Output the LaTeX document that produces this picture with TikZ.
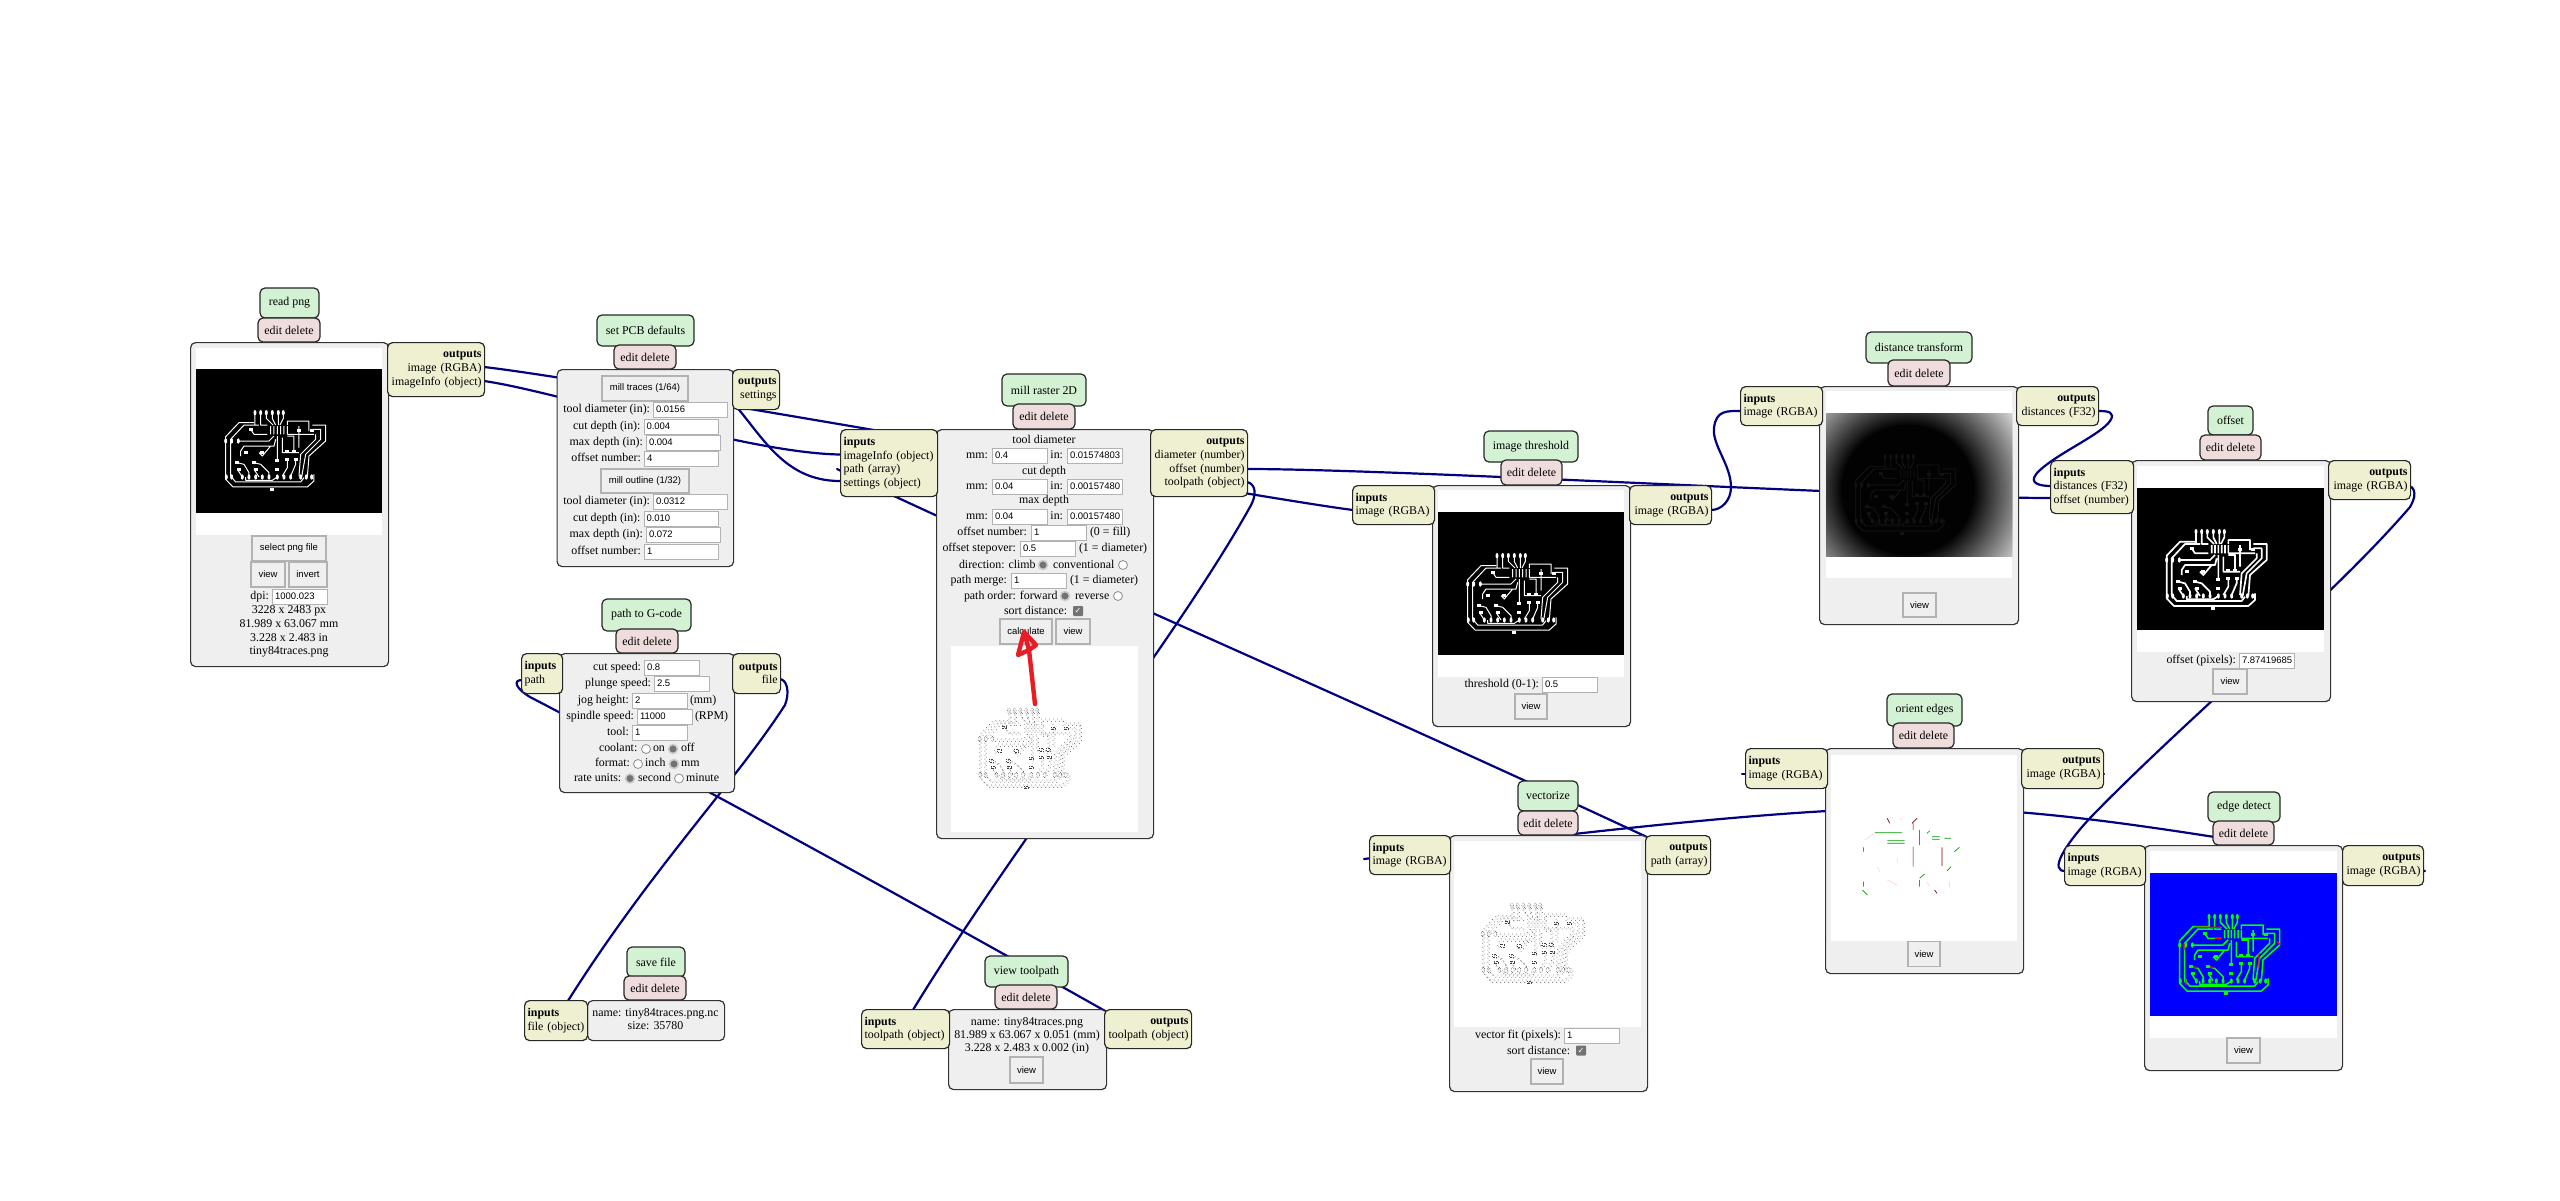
\documentclass[tikz,border=0pt]{standalone}
\usepackage{fontspec}
\setmainfont{Liberation Serif}
\newfontfamily\uifont{Liberation Sans}
\newfontfamily\symfont{DejaVu Sans}
\usetikzlibrary{positioning,backgrounds}

\definecolor{linkblue}{HTML}{000080}
\definecolor{titlegreen}{HTML}{D3F1D3}
\definecolor{editpink}{HTML}{EFDCDC}
\definecolor{modgray}{HTML}{EFEFEF}
\definecolor{portcream}{HTML}{EFEFD1}
\definecolor{arrowred}{HTML}{E81C24}

\tikzset{
  txt/.style={inner sep=0pt,outer sep=0pt,font=\fontsize{11.9}{13.7}\selectfont,text height=8pt,text depth=2.5pt},
  titlebox/.style={draw=black!85,line width=1.2pt,rounded corners=5pt,fill=titlegreen,inner sep=0pt,font=\fontsize{11.9}{13.7}\selectfont},
  editbox/.style={titlebox,fill=editpink},
  mainbox/.style={draw=black!80,line width=1.2pt,rounded corners=5pt,fill=modgray,inner sep=0pt,anchor=north west},
  portbox/.style={draw=black!85,line width=1.2pt,rounded corners=5pt,fill=portcream,inner xsep=3pt,inner ysep=0pt,anchor=north west,font=\fontsize{11.9}{13.7}\selectfont},
  inport/.style={portbox,align=left},
  outport/.style={portbox,align=right},
  field/.style={draw=black!30,line width=1pt,fill=white,text width=#1,align=left,inner xsep=2.5pt,inner ysep=0pt,minimum height=15pt,anchor=west,font=\uifont\fontsize{9.5}{11}\selectfont,text height=7pt,text depth=1.5pt},
  btn/.style={draw=black!30,line width=1.2pt,fill=modgray,inner sep=0pt,font=\uifont\fontsize{9.5}{11}\selectfont},
  radio/.style={circle,draw=black!45,line width=.8pt,fill=white,inner sep=0pt,minimum size=9pt},
  radioon/.style={circle,draw=black!20,line width=1.6pt,fill=black!55,inner sep=0pt,minimum size=9pt},
  checkon/.style={rounded corners=1pt,fill=black!55,text=white,inner sep=0pt,minimum size=10pt,font=\symfont\fontsize{8}{8}\selectfont},
  link/.style={draw=linkblue,line width=2.2pt,line cap=round}
}

% one circuit board, drawn in its own small grid
\newcommand{\pcbart}[3]{
  \begin{scope}[shift={(#3)},scale=0.3333,line join=round]
    \path[#1] (105,65) -- (60,65) -- (20,107) -- (20,235) -- (42,258) -- (265,258) -- (285,240) -- (285,220)
      (120,72) -- (75,72) -- (35,115) -- (35,225) -- (50,243) -- (245,243) -- (255,230)
      (108,35) -- (108,72) (125,35) -- (125,72) -- (145,72) (142,35) -- (142,52) -- (162,72) (160,35) -- (160,52) -- (170,72)
      (178,35) -- (178,72) (193,35) -- (193,52) -- (183,72)
      (95,85) -- (105,100) -- (145,100) (60,120) -- (150,120) -- (165,105)
      (205,72) -- (205,60) -- (270,60) -- (270,90) (205,100) -- (285,100)
      (280,72) -- (320,72) -- (320,120) -- (270,165) -- (265,228) (280,85) -- (305,85) -- (305,115) -- (260,160) -- (248,228)
      (290,100) -- (290,115) -- (245,160) -- (240,225) (240,75) -- (240,140)
      (205,105) -- (225,105) -- (225,155) (190,110) -- (190,155) -- (240,155)
      (170,115) -- (165,135) -- (75,135) -- (65,150) -- (65,165) (120,155) -- (130,165) -- (155,135)
      (175,105) -- (175,180) (205,175) -- (205,200) -- (190,225) (230,175) -- (230,190) -- (215,225)
      (55,185) -- (75,190) -- (90,215) -- (90,228) (105,185) -- (125,190) -- (150,215) -- (150,228)
      (55,205) -- (70,228) (105,205) -- (120,228) (80,228) -- (80,238) -- (160,238) -- (175,228)
      (155,75) -- (155,100) (165,75) -- (165,100) (175,75) -- (175,100) (185,75) -- (185,100) (195,75) -- (195,100) (205,75) -- (205,100);
    \foreach \px/\py in {108/35,125/35,142/35,160/35,178/35,193/35,20/120,38/120,58/120,22/228,38/228,70/228,90/228,110/228,130/228,150/228,175/228,195/228,215/228,245/228,262/228,278/228}
      \path[#2] (\px,\py) ellipse (4.5 and 8);
    \foreach \px/\py in {95/85,240/88,280/88,205/152,225/152,80/155,130/155,175/178,205/175,230/175,55/185,105/185,60/205,110/205,175/205,160/265}
      \path[#2] (\px-6,\py-4) rectangle (\px+6,\py+4);
  \end{scope}
}

% the milled toolpath look: faint tracks, then rows of small dots
\newcommand{\toolart}[2]{
  \pcbart{draw=black!10,line width=.5pt}{draw=none}{#1,#2}
  \pcbart{draw=black!70,line width=.6pt,dash pattern=on .6pt off 3.4pt}{draw=black!75,line width=.5pt,dash pattern=on .6pt off 1pt}{#1-1,#2-1}
  \pcbart{draw=black!70,line width=.6pt,dash pattern=on .6pt off 3.4pt}{draw=none}{#1+1,#2+1.5}
}

\begin{document}
\begin{tikzpicture}[x=1pt,y=-1pt]
  \useasboundingbox (0,0) rectangle (2560,1200);

  % module heads
  \foreach \name/\cx/\cy/\bw/\bh/\lab in {read/289.5/303/59/30/read png,pcb/645.5/330.5/97/31/set PCB defaults,gcode/646.5/615/89/32/path to G-code,raster/1044/390/84/32/mill raster 2D,save/656/962/58/30/save file,view/1026.5/971.5/83/31/view toolpath,thresh/1531/446.5/94/31/image threshold,dist/1919/347.5/106/31/distance transform,offset/2230.5/420.5/45/29/offset,orient/1924.5/710/75/32/orient edges,vec/1548/796/60/30/vectorize,edge/2244/807/72/30/edge detect}
    \node[titlebox,minimum width=\bw pt,minimum height=\bh pt] (\name title) at (\cx,\cy) {\lab};
  \foreach \name/\cx/\cy/\bw/\bh in {read/289/330/62/24,pcb/645/357/62/24,gcode/647/641/62/24,raster/1044/416.5/62/25,save/655/988/62/24,view/1026/997/62/24,thresh/1531.5/472.5/61/25,dist/1919/373/62/26,offset/2230.5/447.5/61/25,orient/1923.5/735.5/61/25,vec/1548/823/60/24,edge/2243.5/833/61/24}
    \node[editbox,minimum width=\bw pt,minimum height=\bh pt] (\name edit) at (\cx,\cy) {edit delete};
  \foreach \name/\mx/\my/\bw/\bh in {read/190/342/198/324,pcb/556.5/369/176.5/197,gcode/559/653/175/139,raster/936/429/217/409,save/587/1000/137/40,view/948/1009/158/80,thresh/1432/485/198/241,dist/1819/386/199/238,offset/2131/460/199/241,orient/1825/748/198/225,vec/1449/835/198/256,edge/2144/845/198/225}
    \node[mainbox,minimum width=\bw pt,minimum height=\bh pt] (\name main) at (\mx,\my) {};

  % ports
  \node[outport,text width=91pt,minimum height=54pt] (readout) at (387,342) {\textbf{outputs}\\image (RGBA)\\imageInfo (object)};
  \node[outport,text width=41pt,minimum height=40pt] (pcbout) at (732,369) {\textbf{outputs}\\settings};
  \node[inport,text width=35pt,minimum height=40pt] (gcodein) at (521,653) {\textbf{inputs}\\path};
  \node[outport,text width=42pt,minimum height=40pt] (gcodeout) at (732,653) {\textbf{outputs}\\file};
  \node[inport,text width=91pt,minimum height=67pt] (rasterin) at (840,429) {\textbf{inputs}\\imageInfo (object)\\path (array)\\settings (object)};
  \node[outport,text width=91pt,minimum height=67pt] (rasterout) at (1150,429) {\textbf{outputs}\\diameter (number)\\offset (number)\\toolpath (object)};
  \node[inport,text width=57pt,minimum height=40pt] (savein) at (524,1000) {\textbf{inputs}\\file (object)};
  \node[inport,text width=82pt,minimum height=39pt] (viewin) at (861,1009) {\textbf{inputs}\\toolpath (object)};
  \node[outport,text width=81pt,minimum height=39pt] (viewout) at (1104,1009) {\textbf{outputs}\\toolpath (object)};
  \node[inport,text width=76pt,minimum height=39pt] (threshin) at (1352,485) {\textbf{inputs}\\image (RGBA)};
  \node[outport,text width=76pt,minimum height=39pt] (threshout) at (1629,485) {\textbf{outputs}\\image (RGBA)};
  \node[inport,text width=76pt,minimum height=39pt] (distin) at (1740,386) {\textbf{inputs}\\image (RGBA)};
  \node[outport,text width=76pt,minimum height=39pt] (distout) at (2016,386) {\textbf{outputs}\\distances (F32)};
  \node[inport,text width=77pt,minimum height=53pt] (offsetin) at (2050,460) {\textbf{inputs}\\distances (F32)\\offset (number)};
  \node[outport,text width=76pt,minimum height=39pt] (offsetout) at (2328,460) {\textbf{outputs}\\image (RGBA)};
  \node[inport,text width=76pt,minimum height=40pt] (orientin) at (1745,748) {\textbf{inputs}\\image (RGBA)};
  \node[outport,text width=76pt,minimum height=40pt] (orientout) at (2021,748) {\textbf{outputs}\\image (RGBA)};
  \node[inport,text width=75pt,minimum height=39pt] (vecin) at (1369,835) {\textbf{inputs}\\image (RGBA)};
  \node[outport,text width=59pt,minimum height=39pt] (vecout) at (1645,835) {\textbf{outputs}\\path (array)};
  \node[inport,text width=75pt,minimum height=40pt] (edgein) at (2064,845) {\textbf{inputs}\\image (RGBA)};
  \node[outport,text width=75pt,minimum height=40pt] (edgeout) at (2342,845) {\textbf{outputs}\\image (RGBA)};

  % read png
  \fill[white] (196,348) rectangle (382,535);
  \fill[black] (196,369) rectangle (382,513);
  \pcbart{draw=white,line width=1pt}{fill=white}{219,401}
  \node[btn,minimum width=74pt,minimum height=25pt] (selectbtn) at (289,548.5) {select png file};
  \node[btn,minimum width=34pt,minimum height=25pt] (readview) at (268,574.5) {view};
  \node[btn,minimum width=38pt,minimum height=25pt] (invertbtn) at (308,574.5) {invert};
  \node[field=50pt] (dpifield) at (272,596.5) {1000.023};
  \node[txt,left=3pt of dpifield] (dpilab) {dpi:};
  \node[txt] (readpx) at (289,611) {3228 x 2483 px};
  \node[txt] (readmm) at (289,625) {81.989 x 63.067 mm};
  \node[txt] (readin) at (289,639) {3.228 x 2.483 in};
  \node[txt] (readfile) at (289,652) {tiny84traces.png};

  % set PCB defaults
  \node[btn,minimum width=86pt,minimum height=25pt] (tracesbtn) at (645,388.5) {mill traces (1/64)};
  \node[btn,minimum width=88pt,minimum height=24pt] (outlinebtn) at (645,481) {mill outline (1/32)};
  \foreach \name/\lab/\fx/\fy/\val in {pdia/tool diameter (in):/653/410/0.0156,pcut/cut depth (in):/643.5/426.5/0.004,pmax/max depth (in):/646/442.5/0.004,pnum/offset number:/644/459/4,qdia/tool diameter (in):/653/502/0.0312,qcut/cut depth (in):/643.5/518.5/0.010,qmax/max depth (in):/646/535/0.072,qnum/offset number:/644/551.5/1}{
    \node[field=69pt] (\name) at (\fx,\fy) {\val};
    \node[txt,left=3pt of \name] (\name lab) {\lab};
  }

  % path to G-code
  \foreach \name/\lab/\fx/\fy/\val in {gcut/cut speed:/644/667.5/0.8,gplunge/plunge speed:/654/684/2.5,gjog/jog height:/632/700.5/2,gspin/spindle speed:/637/717/11000,gtool/tool:/632/733/1}{
    \node[field=50pt] (\name) at (\fx,\fy) {\val};
    \node[txt,left=3pt of \name] (\name lab) {\lab};
  }
  \node[txt,anchor=west] (gjogunit) at (690,700.5) {(mm)};
  \node[txt,anchor=west] (gspinunit) at (695,717) {(RPM)};
  \node[txt,anchor=west] (coollab) at (599,749) {coolant:};
  \node[radio] (coolon) at (646,749) {};
  \node[txt,anchor=west] (coolontxt) at (653,749) {on};
  \node[radioon] (cooloff) at (673,749) {};
  \node[txt,anchor=west] (coolofftxt) at (681,749) {off};
  \node[txt,anchor=west] (formatlab) at (595,764) {format:};
  \node[radio] (forminch) at (638,764) {};
  \node[txt,anchor=west] (forminchtxt) at (645,764) {inch};
  \node[radioon] (formmm) at (674,764) {};
  \node[txt,anchor=west] (formmmtxt) at (681,764) {mm};
  \node[txt,anchor=west] (ratelab) at (574,779) {rate units:};
  \node[radioon] (ratesec) at (630,778.5) {};
  \node[txt,anchor=west] (ratesectxt) at (638,779) {second};
  \node[radio] (ratemin) at (679,778.5) {};
  \node[txt,anchor=west] (ratemintxt) at (686,779) {minute};

  % mill raster 2D
  \node[txt] (rdialab) at (1044,441) {tool diameter};
  \node[txt] (rcutlab) at (1044,472) {cut depth};
  \node[txt] (rmaxlab) at (1044,501) {max depth};
  \foreach \name/\fy/\mmval/\inval in {rdia/456/0.4/0.01574803,rcut/487/0.04/0.00157480,rmax/517/0.04/0.00157480}{
    \node[field=50pt] (\name mm) at (992,\fy) {\mmval};
    \node[txt,left=4pt of \name mm] (\name mmlab) {mm:};
    \node[field=50pt] (\name in) at (1067,\fy) {\inval};
    \node[txt,left=4pt of \name in] (\name inlab) {in:};
  }
  \node[field=50pt] (rnum) at (1031,532.5) {1};
  \node[txt,left=4pt of rnum] (rnumlab) {offset number:};
  \node[txt,right=3pt of rnum] (rnumnote) {(0 = fill)};
  \node[field=50pt] (rstep) at (1020,549) {0.5};
  \node[txt,left=4pt of rstep] (rsteplab) {offset stepover:};
  \node[txt,right=3pt of rstep] (rstepnote) {(1 = diameter)};
  \node[txt,anchor=west] (rdirlab) at (959,566) {direction: climb};
  \node[radioon] (rclimb) at (1043,565) {};
  \node[txt,anchor=west] (rconvlab) at (1053,566) {conventional};
  \node[radio] (rconv) at (1123,565) {};
  \node[field=50pt] (rmerge) at (1011,581) {1};
  \node[txt,left=4pt of rmerge] (rmergelab) {path merge:};
  \node[txt,right=3pt of rmerge] (rmergenote) {(1 = diameter)};
  \node[txt,anchor=west] (rorderlab) at (964,597) {path order: forward};
  \node[radioon] (rforward) at (1065,596) {};
  \node[txt,anchor=west] (rrevlab) at (1075,597) {reverse};
  \node[radio] (rreverse) at (1118,596) {};
  \node[txt,anchor=west] (rsortlab) at (1004,612) {sort distance:};
  \node[checkon] (rsort) at (1078,611) {✓};
  \node[btn,minimum width=52pt,minimum height=25pt] (calcbtn) at (1026,631.5) {calculate};
  \node[btn,minimum width=34pt,minimum height=25pt] (rasterview) at (1073,631.5) {view};
  \fill[white] (951,646) rectangle (1138,832);
  \toolart{974}{700}

  % save file
  \node[txt] (savename) at (655.5,1014) {name: tiny84traces.png.nc};
  \node[txt] (savesize) at (655.5,1027) {size: 35780};

  % view toolpath
  \node[txt] (viewname) at (1027,1023) {name: tiny84traces.png};
  \node[txt] (viewmm) at (1027,1036) {81.989 x 63.067 x 0.051 (mm)};
  \node[txt] (viewinch) at (1027,1049) {3.228 x 2.483 x 0.002 (in)};
  \node[btn,minimum width=33pt,minimum height=26pt] (viewview) at (1026.5,1070) {view};

  % image threshold
  \fill[white] (1438,490) rectangle (1624,677);
  \fill[black] (1438,512) rectangle (1624,655);
  \pcbart{draw=white,line width=1pt}{fill=white}{1461,544}
  \node[field=50pt] (threshfield) at (1542,684.5) {0.5};
  \node[txt,left=3pt of threshfield] (threshlab) {threshold (0-1):};
  \node[btn,minimum width=32pt,minimum height=25pt] (threshview) at (1531,706.5) {view};

  % distance transform
  \fill[white] (1826,391) rectangle (2012,578);
  \begin{scope}
    \clip (1826,413) rectangle (2012,556);
    \fill[white!88!black] (1826,413) rectangle (2012,556);
    \foreach \r in {1.6,1.575,...,0.7}{
      \pgfmathsetmacro{\lit}{max(0,min(88,100*(\r-0.72)/0.85))}
      \fill[white!\lit!black] (1908,490) ellipse ({\r*92} and {\r*90});
    }
    \pcbart{draw=white!9!black,line width=.8pt}{fill=white!7!black}{1849,445}
  \end{scope}
  \node[btn,minimum width=33pt,minimum height=24pt] (distview) at (1919.5,605) {view};

  % offset
  \fill[white] (2137,466) rectangle (2324,652);
  \fill[black] (2137,488) rectangle (2324,630);
  \pcbart{draw=white,line width=1.7pt}{fill=white}{2160,520}
  \node[field=50pt] (offsetfield) at (2239,660.5) {7.87419685};
  \node[txt,left=3pt of offsetfield] (offsetlab) {offset (pixels):};
  \node[btn,minimum width=34pt,minimum height=25pt] (offsetview) at (2230,681.5) {view};

  % orient edges
  \fill[white] (1831,755) rectangle (2017,941);
  \begin{scope}[shift={(1340,770)},xscale=0.4975,yscale=0.3333,line width=.7pt]
    \draw[green!60!black] (1075,188) -- (1130,188) (1100,212) -- (1135,212) (1100,220) -- (1135,220) (1190,200) -- (1205,200) (1190,208) -- (1205,208) (1215,205) -- (1228,205) (1235,245) -- (1245,232) (1220,303) -- (1228,290) (1165,325) -- (1175,312) (1050,360) -- (1060,375) (1180,190) -- (1185,183);
    \draw[red!50!black] (1052,232) -- (1052,245) (1152,160) -- (1152,180) (1165,180) -- (1165,225) (1152,230) -- (1152,290) (1210,232) -- (1210,288) (1052,335) -- (1052,350) (1100,145) -- (1105,160) (1160,145) -- (1150,160) (1165,330) -- (1165,350) (1195,360) -- (1200,370);
    \draw[red!15] (1055,210) -- (1075,188) (1120,265) -- (1120,280) (1080,290) -- (1085,305) (1100,330) -- (1120,345) (1180,335) -- (1185,350) (1225,335) -- (1225,352) (1125,145) -- (1130,150);
  \end{scope}
  \node[btn,minimum width=32pt,minimum height=25pt] (orientview) at (1924,954) {view};

  % vectorize
  \fill[white] (1454,841) rectangle (1641,1027);
  \toolart{1477}{895}
  \node[field=50pt] (vecfield) at (1564,1035.5) {1};
  \node[txt,left=3pt of vecfield] (veclab) {vector fit (pixels):};
  \node[txt,anchor=west] (vecsortlab) at (1507,1052) {sort distance:};
  \node[checkon] (vecsort) at (1581,1050.5) {✓};
  \node[btn,minimum width=32pt,minimum height=25pt] (vecview) at (1547,1071.5) {view};

  % edge detect
  \fill[white] (2150,851) rectangle (2337,1038);
  \fill[blue] (2150,873) rectangle (2337,1016);
  \pcbart{draw=green,line width=1.5pt}{fill=green}{2173,905}
  \begin{scope}[shift={(2173,905)},scale=0.3333,line width=1.3pt]
    \draw[red] (66,67) -- (147,67) (126,100) -- (146,100) (33,115) -- (33,135) (38,222) -- (38,240) (60,186) -- (75,188) (110,186) -- (125,188) (258,144) -- (258,190) (312,110) -- (320,118);
  \end{scope}
  \node[btn,minimum width=33pt,minimum height=25pt] (edgeview) at (2243.5,1050.5) {view};

  % links run under the modules
  \coordinate (readimgport) at (484,367);
  \coordinate (readinfoport) at (484,381);
  \coordinate (settingsport) at (726,395);
  \coordinate (rinfoport) at (840,454.5);
  \coordinate (rpathport) at (837,469);
  \coordinate (rsetport) at (840,481);
  \coordinate (roffsetport) at (1247,469);
  \coordinate (rtoolport) at (1247,482);
  \coordinate (thinport) at (1353,510);
  \coordinate (thoutport) at (1711,510);
  \coordinate (dinport) at (1741,411);
  \coordinate (doutport) at (2098,411);
  \coordinate (oindistport) at (2052,486);
  \coordinate (oinoffport) at (2050,498);
  \coordinate (ooutport) at (2409,486);
  \coordinate (einport) at (2066,871);
  \coordinate (eoutport) at (2425,871);
  \coordinate (vinport) at (1364,859);
  \coordinate (voutport) at (1700,862);
  \coordinate (orinport) at (1742,774);
  \coordinate (oroutport) at (2104,774);
  \coordinate (gcinport) at (522,680);
  \coordinate (gcoutport) at (780,679);
  \coordinate (sinport) at (550,1030);
  \coordinate (vwinport) at (895,1040);
  \coordinate (vwoutport) at (1130,1025);
  \begin{scope}[on background layer]
    \draw[link] (readimgport) .. controls (600,380) and (1250,497) .. (thinport);
    \draw[link] (readinfoport) .. controls (560,392) and (745,453) .. (rinfoport);
    \draw[link] (settingsport) .. controls (760,430) and (780,481) .. (rsetport);
    \draw[link] (roffsetport) .. controls (1400,469) and (1900,498) .. (oinoffport);
    \draw[link] (voutport) .. controls (1400,720) and (1000,548) .. (rpathport);
    \draw[link] (rtoolport) .. controls (1256,484) and (1257,495) .. (1250,507) .. controls (1170,650) and (1000,860) .. (vwinport);
    \draw[link] (gcoutport) .. controls (787,680) and (790,692) .. (785,705) .. controls (730,790) and (640,880) .. (sinport);
    \draw[link] (vwoutport) .. controls (900,895) and (680,775) .. (530,697) .. controls (515,688) and (513,680) .. (gcinport);
    \draw[link] (eoutport) .. controls (2200,835) and (2060,808) .. (1920,808) .. controls (1780,808) and (1560,835) .. (vinport);
    \draw[link] (oroutport) -- (orinport);
    \draw[link] (ooutport) .. controls (2416,488) and (2416,497) .. (2410,507) .. controls (2330,600) and (2190,715) .. (2090,818) .. controls (2065,845) and (2048,872) .. (einport);
    \draw[link] (thoutport) .. controls (1722,510) and (1731,500) .. (1731,487) .. controls (1731,465) and (1712,445) .. (1714,428) .. controls (1716,410) and (1727,411) .. (dinport);
    \draw[link] (doutport) .. controls (2108,411) and (2116,412) .. (2110,421) .. controls (2100,435) and (2060,452) .. (2040,470) .. controls (2028,481) and (2034,486) .. (oindistport);
  \end{scope}

  % the red hand drawn arrow
  \coordinate (arrowtail) at (1035,704);
  \coordinate (arrowtip) at (1024,632);
  \draw[arrowred,line width=4.4pt,line cap=round,line join=round] (arrowtail) -- (1029,650) -- (arrowtip) -- (1018,655) -- (1029,650) -- (1036,645) -- (arrowtip);
\end{tikzpicture}
\end{document}
